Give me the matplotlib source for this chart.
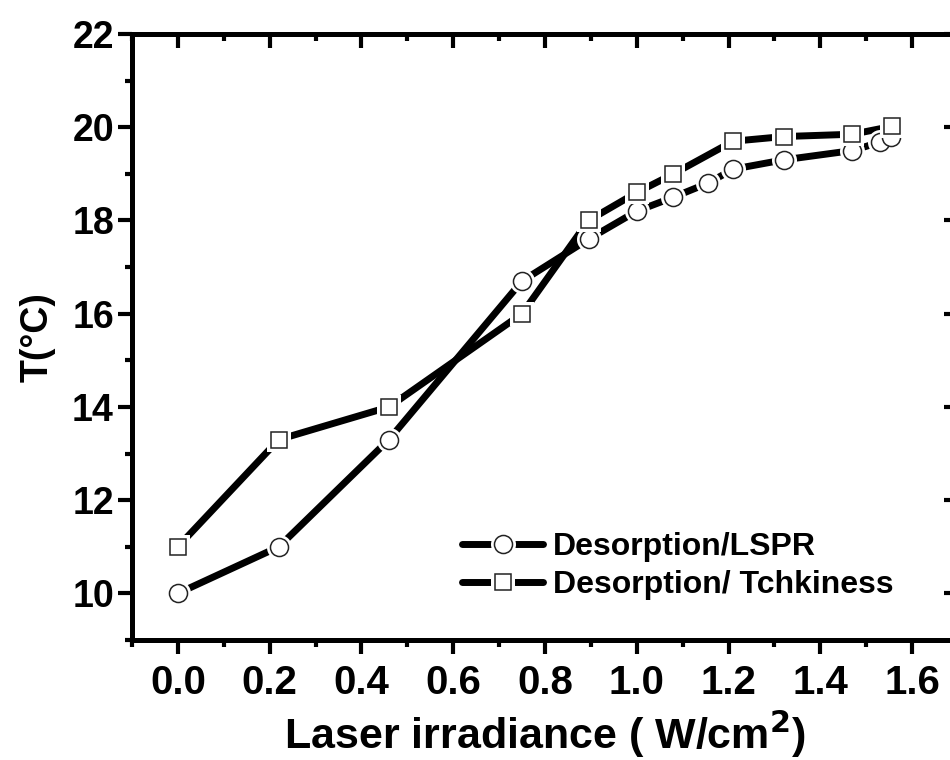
import matplotlib
matplotlib.use("Agg")
import matplotlib.pyplot as plt
from matplotlib.ticker import MultipleLocator
from matplotlib.legend_handler import HandlerTuple

plt.rcParams['font.family'] = ['Liberation Sans', 'DejaVu Sans']
plt.rcParams['font.weight'] = 'bold'

# Data
x_lspr = [0.0, 0.22, 0.46, 0.75, 0.895, 1.0, 1.08, 1.155, 1.21, 1.32, 1.47, 1.53, 1.555]
t_lspr = [10.0, 11.0, 13.3, 16.7, 17.6, 18.2, 18.5, 18.8, 19.1, 19.3, 19.5, 19.68, 19.78]
x_tch = [0.0, 0.22, 0.46, 0.75, 0.895, 1.0, 1.08, 1.21, 1.32, 1.47, 1.557]
t_tch = [11.0, 13.3, 14.0, 16.0, 18.0, 18.6, 19.0, 19.7, 19.8, 19.85, 20.02]
labels = ['Desorption/LSPR', 'Desorption/ Tchkiness']
x_ticks = [0.0, 0.2, 0.4, 0.6, 0.8, 1.0, 1.2, 1.4, 1.6]
y_ticks = [10, 12, 14, 16, 18, 20, 22]

fig = plt.figure(figsize=(9.5, 7.6), dpi=100)
ax = fig.add_axes([132/950, 1-640/760, (958-132)/950, (640-34)/760])

LW = 5.0
series = [(x_lspr, t_lspr, 'o', 13, 3), (x_tch, t_tch, 's', 12, 4)]
handles = []
for (xs, ys, mk, ms, z) in series:
    ln, = ax.plot(xs, ys, color='black', lw=LW, solid_capstyle='round', zorder=2)
    halo, = ax.plot(xs, ys, ls='none', marker=mk, ms=ms + 5, mfc='white', mec='white', mew=0, zorder=z)
    mkr, = ax.plot(xs, ys, ls='none', marker=mk, ms=ms, mfc='white', mec='#222222', mew=1.1, zorder=z + 0.5)
    handles.append((ln, halo, mkr))

ax.set_xlim(-0.1, 1.7)
ax.set_ylim(9, 22)
ax.set_xticks(x_ticks)
ax.set_yticks(y_ticks)
ax.set_xticklabels([f"{v:.1f}" for v in x_ticks])
ax.xaxis.set_minor_locator(MultipleLocator(0.1))
ax.yaxis.set_minor_locator(MultipleLocator(1))

for s in ax.spines.values():
    s.set_linewidth(3.6)

ax.tick_params(axis='x', which='major', direction='out', length=10, width=3,
               labelsize=29, pad=7)
ax.tick_params(axis='y', which='major', direction='out', length=10, width=3,
               labelsize=27, pad=3)
ax.tick_params(axis='both', which='minor', direction='out', length=5, width=3)
ax.tick_params(top=False, right=False, which='both')
for lab in ax.get_xticklabels() + ax.get_yticklabels():
    lab.set_fontweight('bold')

secx = ax.secondary_xaxis('top')
secx.set_xticks(x_ticks)
secx.xaxis.set_minor_locator(MultipleLocator(0.1))
secx.tick_params(which='major', direction='in', length=10, width=3, labeltop=False)
secx.tick_params(which='minor', direction='in', length=5, width=3)
secx.spines['top'].set_linewidth(3.6)

secy = ax.secondary_yaxis('right')
secy.set_yticks(y_ticks)
secy.yaxis.set_minor_locator(MultipleLocator(1))
secy.tick_params(which='major', direction='in', length=10, width=3, labelright=False)
secy.tick_params(which='minor', direction='in', length=5, width=3)
secy.spines['right'].set_linewidth(3.6)

ax.set_xlabel('Laser irradiance ( W/cm$^\\mathbf{2}$)', fontsize=31, fontweight='bold', labelpad=5)
ax.set_ylabel('T(°C)', fontsize=27, fontweight='bold', labelpad=12)

leg = ax.legend(handles, labels, handler_map={tuple: HandlerTuple(ndivide=1)},
                loc='upper left', bbox_to_anchor=(0.38, 0.205), frameon=False,
                handlelength=2.55, handletextpad=0.3, borderpad=0,
                labelspacing=0.25, prop={'weight': 'bold', 'size': 23})

fig.savefig('out.png', dpi=100)
